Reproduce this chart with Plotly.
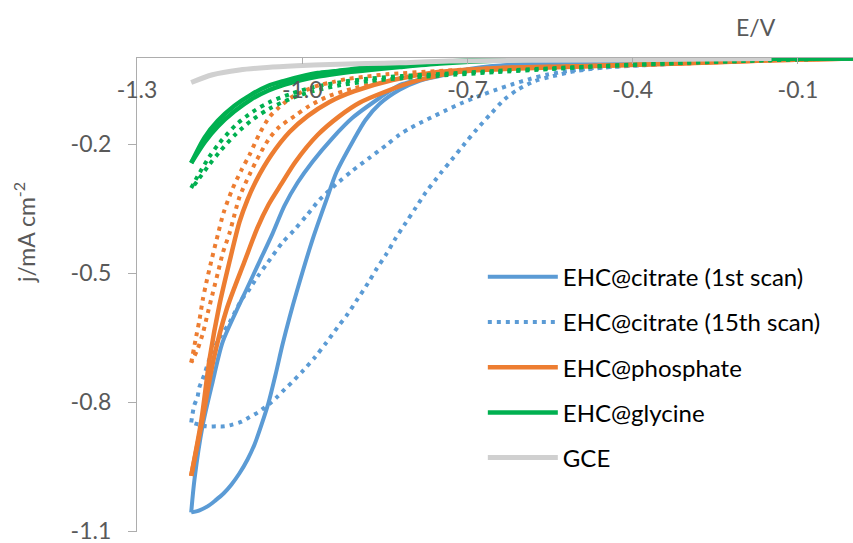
import plotly.graph_objects as go

# ---- Potential (E/V) and current density (j/mA cm-2) for each electrode ----
# Each cyclic scan is stored as two branches: toward -1.2 V, then back.

# EHC@citrate, 1st scan
cit1_out_E = [0.0, -0.279, -0.551, -0.678, -0.751, -0.787, -0.8233, -0.8597, -0.8851, -0.9087,
              -0.9377, -0.9559, -0.9813, -1.0104, -1.0231, -1.0358, -1.0485, -1.0612, -1.0739,
              -1.0866, -1.0993, -1.1139, -1.1284, -1.1429, -1.1575, -1.1720, -1.1865, -1.2016]
cit1_out_j = [0.0, -0.005, -0.012, -0.023, -0.042, -0.053, -0.074, -0.107, -0.144, -0.195,
              -0.265, -0.329, -0.422, -0.545, -0.603, -0.666, -0.736, -0.801, -0.852,
              -0.898, -0.933, -0.965, -0.991, -1.012, -1.028, -1.042, -1.051, -1.056]
cit1_back_E = [-1.2016, -1.1956, -1.1811, -1.1629, -1.1447, -1.1211, -1.1012, -1.0776, -1.0539,
               -1.0322, -1.0086, -0.9813, -0.945, -0.9087, -0.8597, -0.8233, -0.787, -0.751,
               -0.678, -0.551, -0.279, 0.0]
cit1_back_j = [-1.056, -0.979, -0.856, -0.754, -0.661, -0.592, -0.538, -0.473, -0.408,
               -0.343, -0.290, -0.241, -0.186, -0.139, -0.093, -0.063, -0.051, -0.039,
               -0.022, -0.011, -0.004, 0.0]

# EHC@citrate, 15th scan
cit15_out_E = [0.0, -0.15, -0.30, -0.45, -0.502, -0.5201, -0.551, -0.5782, -0.6091, -0.6327,
               -0.6563, -0.684, -0.705, -0.729, -0.747, -0.758, -0.776, -0.794, -0.812, -0.831,
               -0.847, -0.865, -0.881, -0.900, -0.918, -0.936, -0.956, -0.976, -0.998, -1.019,
               -1.032, -1.045, -1.056, -1.068, -1.081, -1.096, -1.110, -1.127, -1.141, -1.156,
               -1.174, -1.2016]
cit15_out_j = [0.0, -0.005, -0.012, -0.022, -0.030, -0.0348, -0.0441, -0.054, -0.074, -0.096,
               -0.128, -0.167, -0.199, -0.237, -0.265, -0.283, -0.313, -0.348, -0.383, -0.420,
               -0.455, -0.490, -0.524, -0.561, -0.596, -0.626, -0.661, -0.694, -0.726, -0.754,
               -0.770, -0.787, -0.800, -0.812, -0.824, -0.835, -0.845, -0.852, -0.856, -0.856,
               -0.856, -0.847]
cit15_back_E = [-1.2016, -1.199, -1.196, -1.190, -1.187, -1.181, -1.176, -1.170, -1.163, -1.150,
                -1.132, -1.110, -1.099, -1.081, -1.063, -1.036, -1.014, -0.992, -0.969, -0.938,
                -0.909, -0.878, -0.847, -0.8233, -0.8052, -0.7816, -0.7652, -0.738, -0.709,
                -0.678, -0.6472, -0.6181, -0.5873, -0.5564, -0.5201, -0.4729, -0.30, -0.15, 0.0]
cit15_back_j = [-0.847, -0.826, -0.807, -0.787, -0.766, -0.747, -0.729, -0.705, -0.683, -0.650,
                -0.615, -0.561, -0.543, -0.508, -0.476, -0.429, -0.399, -0.366, -0.330, -0.293,
                -0.262, -0.232, -0.202, -0.178, -0.164, -0.148, -0.138, -0.121, -0.104,
                -0.088, -0.0735, -0.061, -0.049, -0.039, -0.031, -0.0235, -0.012, -0.005, 0.0]

# EHC@phosphate (solid scan)
pho_out_E = [0.0, -0.146, -0.3149, -0.4965, -0.6417, -0.7144, -0.787, -0.8506, -0.896, -0.9323,
             -0.9722, -1.0122, -1.0376, -1.0612, -1.0812, -1.1048, -1.1375, -1.1611, -1.1811,
             -1.2016]
pho_out_j = [-0.001, -0.005, -0.013, -0.020, -0.026, -0.032, -0.051, -0.079, -0.104, -0.135,
             -0.179, -0.241, -0.292, -0.341, -0.394, -0.473, -0.585, -0.701, -0.840, -0.971]
pho_back_E = [-1.2016, -1.1829, -1.1684, -1.1502, -1.132, -1.1139, -1.0993, -1.0848, -1.0558,
              -1.0231, -0.9904, -0.9505, -0.9051, -0.8361, -0.7507, -0.6417, -0.4965, -0.3149,
              -0.146, 0.0]
pho_back_j = [-0.971, -0.840, -0.701, -0.573, -0.473, -0.381, -0.329, -0.288, -0.225,
              -0.172, -0.135, -0.102, -0.077, -0.051, -0.032, -0.023, -0.019, -0.012,
              -0.005, -0.001]

# EHC@phosphate (dotted scan)
pho2_out_E = [0.0, -0.146, -0.3149, -0.4965, -0.6417, -0.7507, -0.8415, -0.9051, -0.9505,
              -0.9868, -1.014, -1.0413, -1.0594, -1.0776, -1.0957, -1.1139, -1.123, -1.132,
              -1.1442, -1.1533, -1.1624, -1.1714, -1.1805, -1.1901, -1.2016]
pho2_out_j = [-0.001, -0.005, -0.013, -0.020, -0.026, -0.035, -0.051, -0.070, -0.088,
              -0.111, -0.135, -0.160, -0.186, -0.225, -0.271, -0.323, -0.364, -0.407,
              -0.453, -0.500, -0.546, -0.592, -0.640, -0.677, -0.708]
pho2_back_E = [-1.2016, -1.1925, -1.1865, -1.1805, -1.1743, -1.1653, -1.1533, -1.1429, -1.1266,
               -1.1102, -1.0957, -1.0776, -1.0594, -1.0413, -1.0176, -0.9922, -0.9686, -0.945,
               -0.9196, -0.8833, -0.847, -0.7507, -0.6417, -0.4965, -0.3149, -0.146, 0.0]
pho2_back_j = [-0.708, -0.647, -0.608, -0.561, -0.523, -0.473, -0.411, -0.360, -0.304,
               -0.260, -0.225, -0.176, -0.137, -0.114, -0.090, -0.074, -0.063, -0.056,
               -0.049, -0.043, -0.038, -0.030, -0.023, -0.019, -0.012, -0.005, -0.001]

# EHC@glycine (solid scan)
gly_out_E = [0.0, -0.3, -0.5, -0.642, -0.75, -0.823, -0.887, -0.911, -0.9414, -0.9717, -1.0018,
             -1.0322, -1.0625, -1.0926, -1.123, -1.1533, -1.1774, -1.2016]
gly_out_j = [-0.001, -0.002, -0.003, -0.006, -0.013, -0.021, -0.029, -0.032, -0.037, -0.043,
             -0.051, -0.062, -0.076, -0.096, -0.124, -0.159, -0.196, -0.244]
gly_back_E = [-1.2016, -1.1774, -1.1533, -1.123, -1.0926, -1.0625, -1.0322, -1.0018, -0.9717,
              -0.9414, -0.911, -0.887, -0.823, -0.75, -0.642, -0.5, -0.3, 0.0]
gly_back_j = [-0.244, -0.185, -0.146, -0.111, -0.085, -0.065, -0.053, -0.043, -0.035,
              -0.031, -0.026, -0.023, -0.015, -0.009, -0.003, -0.002, -0.001, -0.001]

# EHC@glycine (dotted scan)
gly2_out_E = [0.0, -0.15, -0.3, -0.45, -0.55, -0.65, -0.75, -0.82, -0.88, -0.93, -0.98, -1.02,
              -1.06, -1.09, -1.12, -1.15, -1.17, -1.19, -1.2016]
gly2_out_j = [0.0, -0.005, -0.011, -0.019, -0.026, -0.033, -0.041, -0.047, -0.054, -0.063,
              -0.077, -0.094, -0.118, -0.143, -0.176, -0.218, -0.250, -0.285, -0.305]
gly2_back_E = [-1.2016, -1.19, -1.17, -1.15, -1.12, -1.09, -1.06, -1.02, -0.98, -0.93, -0.88,
               -0.82, -0.75, -0.65, -0.55, -0.45, -0.3, -0.15, 0.0]
gly2_back_j = [-0.302, -0.275, -0.232, -0.197, -0.155, -0.125, -0.103, -0.083, -0.068, -0.056,
               -0.048, -0.042, -0.037, -0.030, -0.024, -0.018, -0.011, -0.005, 0.0]

# Bare GCE
gce_E = [-1.2016, -1.163, -1.114, -1.064, -1.010, -0.950, -0.883, -0.823, -0.733, -0.460, -0.148]
gce_j = [-0.057, -0.039, -0.028, -0.022, -0.018, -0.015, -0.013, -0.011, -0.007, -0.0046, -0.001]

# Axis ticks
x_ticks = [-1.3, -1.0, -0.7, -0.4, -0.1]
y_ticks = [-1.1, -0.8, -0.5, -0.2]

BLUE = "#5B9BD5"
ORANGE = "#ED7D31"
GREEN = "#00B050"
GREY = "#D0D0D0"
DOT = "4px,5px"
FONT = "Lato"

fig = go.Figure()


def add_scan(out_e, out_j, back_e, back_j, name, color, width, dash="solid", show=True):
    """Draw both branches of one scan; only the first one gets a legend entry."""
    for k, (e, j) in enumerate([(out_e, out_j), (back_e, back_j)]):
        fig.add_trace(go.Scatter(
            x=e, y=j, mode="lines", name=name, legendgroup=name,
            showlegend=show and k == 0,
            line=dict(color=color, width=width, dash=dash, shape="spline", smoothing=0.8),
        ))


add_scan(cit1_out_E, cit1_out_j, cit1_back_E, cit1_back_j,
         "EHC@citrate (1st scan)", BLUE, 4)
add_scan(cit15_out_E, cit15_out_j, cit15_back_E, cit15_back_j,
         "EHC@citrate (15th scan)", BLUE, 4, DOT)
add_scan(pho2_out_E, pho2_out_j, pho2_back_E, pho2_back_j,
         "phosphate dotted", ORANGE, 4, DOT, show=False)
add_scan(pho_out_E, pho_out_j, pho_back_E, pho_back_j,
         "EHC@phosphate", ORANGE, 4.5)
add_scan(gly2_out_E, gly2_out_j, gly2_back_E, gly2_back_j,
         "glycine dotted", GREEN, 4, DOT, show=False)
add_scan(gly_out_E, gly_out_j, gly_back_E, gly_back_j,
         "EHC@glycine", GREEN, 4.5)
fig.add_trace(go.Scatter(
    x=gce_E, y=gce_j, mode="lines", name="GCE", legendgroup="GCE",
    line=dict(color=GREY, width=5, shape="spline", smoothing=0.8),
))

axis_grey = "#ADADAD"
fig.update_layout(
    width=853, height=543,
    margin=dict(l=137, r=0, t=58, b=11),
    paper_bgcolor="white", plot_bgcolor="white",
    font=dict(family=FONT, size=23, color="#595959"),
    showlegend=True,
    legend=dict(
        x=0.483, y=0.585, xanchor="left", yanchor="top",
        font=dict(family=FONT, size=24, color="#000000"),
        bgcolor="rgba(0,0,0,0)", tracegroupgap=11,
        itemwidth=70,
    ),
    xaxis=dict(
        range=[-1.3, 0.0], side="top",
        showline=True, linecolor=axis_grey, linewidth=1.3,
        ticks="inside", ticklen=6, tickcolor=axis_grey, tickwidth=1.3,
        tickvals=x_ticks, ticktext=[f"{v:.1f}" for v in x_ticks],
        ticklabelposition="inside", ticklabeloverflow="allow",
        ticklabelstandoff=19,
        showgrid=False, zeroline=False,
        tickfont=dict(family=FONT, size=23, color="#595959"),
    ),
    yaxis=dict(
        range=[-1.1015, 0.0],
        showline=True, linecolor=axis_grey, linewidth=1.3,
        ticks="outside", ticklen=8, tickcolor=axis_grey, tickwidth=1.3,
        tickvals=y_ticks, ticktext=[f"{v:.1f}" for v in y_ticks],
        ticklabelstandoff=12, ticklabeloverflow="allow",
        showgrid=False, zeroline=False,
        tickfont=dict(family=FONT, size=23, color="#595959"),
    ),
    annotations=[
        dict(text="E/V", xref="paper", yref="paper", x=0.8645, y=1.0654,
             xanchor="center", yanchor="middle", showarrow=False,
             font=dict(family=FONT, size=23, color="#595959")),
        dict(text="j/mA cm<sup>-2</sup>", xref="paper", yref="paper", x=-0.1564, y=0.631,
             xanchor="center", yanchor="middle", textangle=-90, showarrow=False,
             font=dict(family=FONT, size=23, color="#595959")),
    ],
)

fig.write_html("out.html")
